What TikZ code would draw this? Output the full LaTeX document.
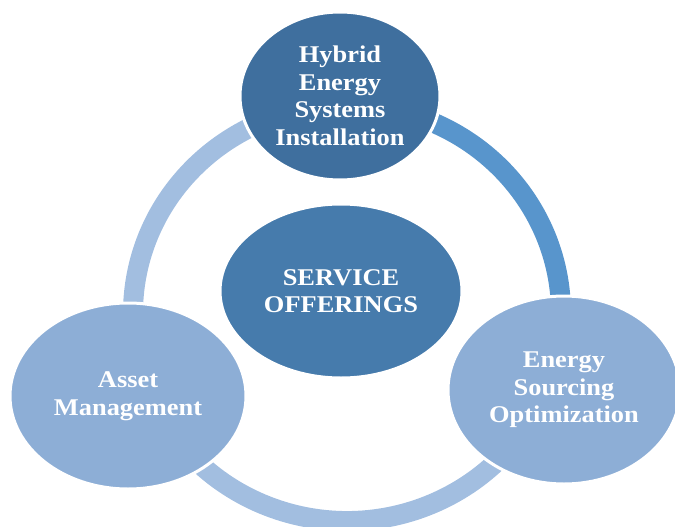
\documentclass[tikz,border=0pt]{standalone}
\usepackage{fontspec}
\setmainfont{Liberation Serif}[FakeStretch=1.1]
\usetikzlibrary{shapes.geometric}
\definecolor{topblue}{RGB}{63,111,158}
\definecolor{hubblue}{RGB}{70,123,172}
\definecolor{sideblue}{RGB}{141,174,214}
\definecolor{ringlight}{RGB}{162,190,224}
\definecolor{ringmid}{RGB}{88,149,204}
\tikzset{
  ring/.style={line width=20pt, line cap=butt},
  bubble/.style={ellipse, draw=white, line width=3pt, inner sep=0pt},
  label/.style={text=white, font=\fontsize{24}{27.5}\selectfont\bfseries, align=center, inner sep=0pt}
}
\begin{document}
\begin{tikzpicture}[x=1pt,y=-1pt]
  \useasboundingbox (0,0) rectangle (675,527);
  \coordinate (ringc) at (347,313);
  % ring segments between the outer bubbles
  \draw[ring, ringlight] (ringc) ++(20:214 and 208) arc[start angle=20, end angle=159, x radius=214, y radius=208];
  \draw[ring, ringlight] (ringc) ++(159:214 and 208) arc[start angle=159, end angle=270, x radius=214, y radius=208];
  \draw[ring, ringmid] (ringc) ++(270:214 and 208) arc[start angle=270, end angle=380, x radius=214, y radius=208];
  % bubbles
  \node[bubble, fill=topblue, minimum width=200pt, minimum height=168pt] (top) at (340,96) {};
  \node[bubble, fill=hubblue, minimum width=242pt, minimum height=174pt] (hub) at (341,291) {};
  \node[bubble, fill=sideblue, minimum width=236pt, minimum height=186pt] (left) at (128,396) {};
  \node[bubble, fill=sideblue, minimum width=232pt, minimum height=188pt] (right) at (564,390) {};
  % labels
  \node[label] (topt) at (top.center) {Hybrid\\Energy\\Systems\\Installation};
  \node[label] (hubt) at (hub.center) {SERVICE\\OFFERINGS};
  \node[label] (leftt) at (left.center) {Asset\\Management};
  \node[label] (rightt) at (right.center) {Energy\\Sourcing\\Optimization};
\end{tikzpicture}
\end{document}
